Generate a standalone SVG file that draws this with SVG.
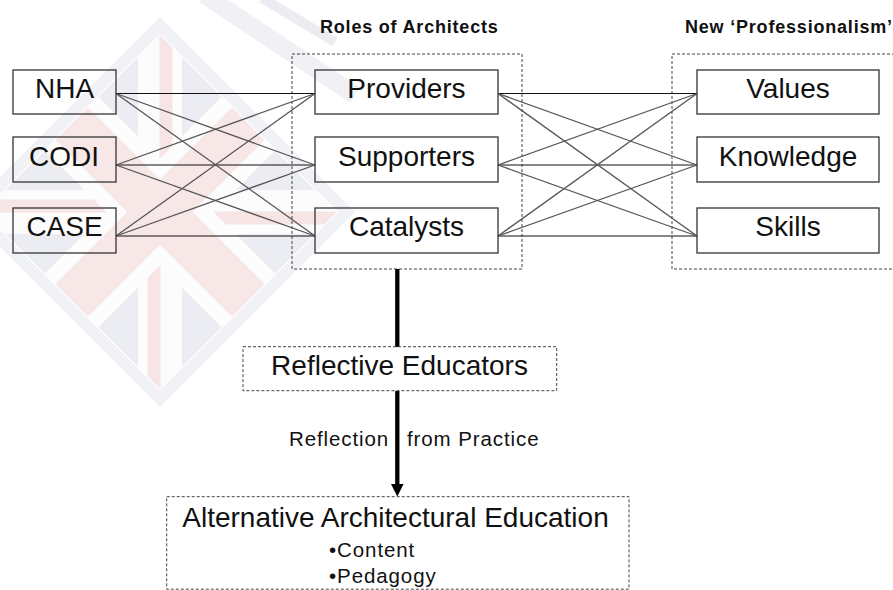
<svg xmlns="http://www.w3.org/2000/svg" width="893" height="590" viewBox="0 0 893 590">
<style>
  .box{fill:none;stroke:#333;stroke-width:1.3}
  .dash{fill:none;stroke:#444;stroke-width:1;stroke-dasharray:3 2}
  .lbl{font-family:"Liberation Sans",Arial,sans-serif;font-size:28px;fill:#111;text-anchor:middle}
  .ttl{font-family:"Liberation Sans",Arial,sans-serif;font-size:18px;font-weight:bold;fill:#111;letter-spacing:0.8px}
  .sm{font-family:"Liberation Sans",Arial,sans-serif;font-size:20.5px;fill:#111;letter-spacing:0.9px}
  .h{stroke:#111;stroke-width:1.2;fill:none}
  .d{stroke:#555;stroke-width:1.3;fill:none}
  .shaft{stroke:#000;stroke-width:4.3;fill:none}
  .rs{stroke:#f5dcdd;stroke-width:13}
</style>
<defs>
  <clipPath id="flagclip"><rect x="-125" y="-125" width="250" height="250"/></clipPath>
</defs>
<rect x="0" y="0" width="893" height="590" fill="#fff"/>
<g id="watermark" opacity="0.75">
  <g transform="translate(160,212) rotate(45)">
    <rect x="-132" y="-132" width="264" height="264" fill="none" stroke="#eceef4" stroke-width="12"/>
    <g clip-path="url(#flagclip)">
      <rect x="-125" y="-125" width="250" height="250" fill="#e5e7ef"/>
      <line x1="-125" y1="-125" x2="125" y2="125" stroke="#fbfbfd" stroke-width="44"/>
      <line x1="-125" y1="125" x2="125" y2="-125" stroke="#fbfbfd" stroke-width="44"/>
      <line class="rs" x1="-120.8" y1="-129.2" x2="4.2" y2="-4.2"/>
      <line class="rs" x1="-4.2" y1="4.2" x2="120.8" y2="129.2"/>
      <line class="rs" x1="-129.2" y1="120.8" x2="-4.2" y2="-4.2"/>
      <line class="rs" x1="4.2" y1="4.2" x2="129.2" y2="-120.8"/>
      <rect x="-125" y="-38" width="250" height="76" fill="#fbfbfd"/>
      <rect x="-38" y="-125" width="76" height="250" fill="#fbfbfd"/>
      <rect x="-125" y="-23" width="250" height="46" fill="#f6dfe0"/>
      <rect x="-23" y="-125" width="46" height="250" fill="#f6dfe0"/>
    </g>
  </g>
  <line x1="205" y1="-5" x2="355" y2="95" stroke="#ebecf2" stroke-width="18"/>
  <line x1="262" y1="-2" x2="335" y2="42" stroke="#e6e7ee" stroke-width="10"/>
</g>
<g id="groups">
  <rect id="roles-group" class="dash" x="292" y="54" width="230" height="215"/>
  <rect id="prof-group" class="dash" x="672" y="54" width="230" height="215"/>
  <text class="ttl" x="320" y="33">Roles of Architects</text>
  <text class="ttl" x="685" y="33">New ‘Professionalism’</text>
</g>
<g id="connectors">
  <line class="h" x1="116" y1="93.5" x2="315" y2="93.5"/>
  <line class="h" x1="116" y1="165" x2="315" y2="165"/>
  <line class="h" x1="116" y1="236" x2="315" y2="236"/>
  <line class="d" x1="116" y1="93.5" x2="315" y2="165"/>
  <line class="d" x1="116" y1="93.5" x2="315" y2="236"/>
  <line class="d" x1="116" y1="165" x2="315" y2="93.5"/>
  <line class="d" x1="116" y1="165" x2="315" y2="236"/>
  <line class="d" x1="116" y1="236" x2="315" y2="93.5"/>
  <line class="d" x1="116" y1="236" x2="315" y2="165"/>
  <line class="h" x1="498" y1="93.5" x2="697" y2="93.5"/>
  <line class="h" x1="498" y1="165" x2="697" y2="165"/>
  <line class="h" x1="498" y1="236" x2="697" y2="236"/>
  <line class="d" x1="498" y1="93.5" x2="697" y2="165"/>
  <line class="d" x1="498" y1="93.5" x2="697" y2="236"/>
  <line class="d" x1="498" y1="165" x2="697" y2="93.5"/>
  <line class="d" x1="498" y1="165" x2="697" y2="236"/>
  <line class="d" x1="498" y1="236" x2="697" y2="93.5"/>
  <line class="d" x1="498" y1="236" x2="697" y2="165"/>
  <line class="shaft" x1="397.3" y1="269" x2="397.3" y2="347"/>
  <line class="shaft" x1="397.3" y1="391" x2="397.3" y2="485"/>
  <polygon points="391,484 403.6,484 397.3,496.5" fill="#000"/>
  <text class="sm" x="289" y="446">Reflection</text>
  <text class="sm" x="407" y="446">from Practice</text>
</g>
<g id="nha"><rect class="box" x="13" y="70" width="103" height="44"/><text class="lbl" x="64.5" y="98.3">NHA</text></g>
<g id="codi"><rect class="box" x="13" y="137" width="103" height="45"/><text class="lbl" x="64" y="165.7">CODI</text></g>
<g id="case"><rect class="box" x="13" y="208" width="103" height="45"/><text class="lbl" x="64.5" y="235.7">CASE</text></g>
<g id="providers"><rect class="box" x="315" y="70" width="183" height="44"/><text class="lbl" x="406.5" y="98.3">Providers</text></g>
<g id="supporters"><rect class="box" x="315" y="137" width="183" height="45"/><text class="lbl" x="406.5" y="165.7">Supporters</text></g>
<g id="catalysts"><rect class="box" x="315" y="208" width="183" height="45"/><text class="lbl" x="406.5" y="235.7">Catalysts</text></g>
<g id="values"><rect class="box" x="697" y="70" width="182" height="44"/><text class="lbl" x="788" y="98.3">Values</text></g>
<g id="knowledge"><rect class="box" x="697" y="137" width="182" height="45"/><text class="lbl" x="788" y="165.7">Knowledge</text></g>
<g id="skills"><rect class="box" x="697" y="208" width="182" height="45"/><text class="lbl" x="788" y="235.7">Skills</text></g>
<g id="reflective-educators"><rect class="dash" x="243" y="346.7" width="313.7" height="44"/><text class="lbl" x="399.5" y="375">Reflective Educators</text></g>
<g id="alternative-education">
  <rect class="dash" x="166.7" y="496.7" width="462.3" height="92.5"/>
  <text class="lbl" x="395.5" y="526.7">Alternative Architectural Education</text>
  <text class="sm" x="329" y="556.5">•Content</text>
  <text class="sm" x="329" y="582.5">•Pedagogy</text>
</g>
</svg>
